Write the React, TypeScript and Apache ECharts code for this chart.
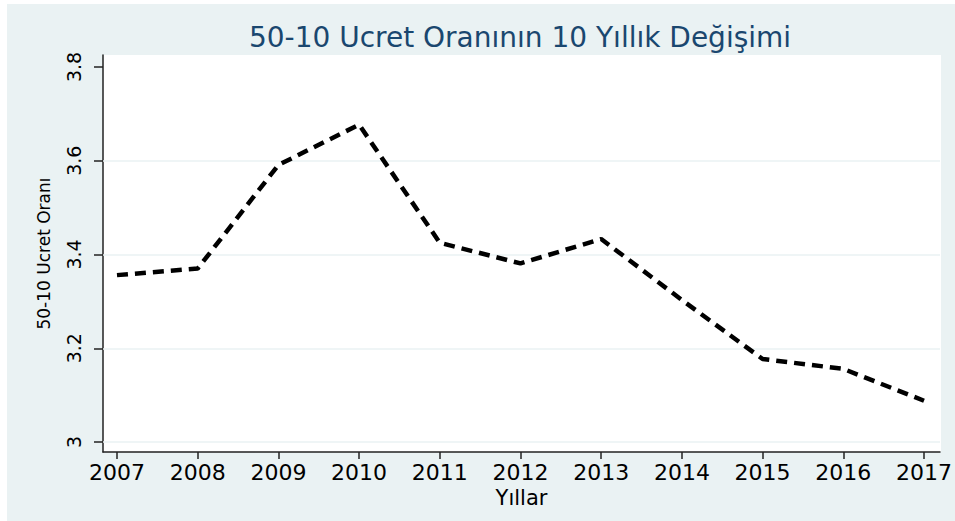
import React, { useEffect, useRef } from "react";
import * as echarts from "echarts";

const years = [2007, 2008, 2009, 2010, 2011, 2012, 2013, 2014, 2015, 2016, 2017];
const ratio = [3.356, 3.37, 3.591, 3.677, 3.425, 3.381, 3.433, 3.303, 3.177, 3.156, 3.088];
const yTicks = [3, 3.2, 3.4, 3.6, 3.8];
const gridValues = [3, 3.2, 3.4, 3.6];
const titleText = "50-10 Ucret Oranının 10 Yıllık Değişimi";
const yName = "50-10 Ucret Oranı";
const xName = "Yıllar";

const FONT = "'DejaVu Sans', sans-serif";

export default function App() {
  const ref = useRef<HTMLDivElement>(null);
  useEffect(() => {
    if (!ref.current) return;
    const chart = echarts.init(ref.current, undefined, { renderer: "svg" });
    const data = years.map((y, i) => [y, ratio[i]]);
    chart.setOption({
      animation: false,
      backgroundColor: "#ffffff",
      graphic: [
        { type: "rect", z: -100, shape: { x: 7, y: 4, width: 948, height: 517 }, style: { fill: "#EAF2F3" }, silent: true },
        { type: "rect", z: -99, shape: { x: 103, y: 55, width: 838, height: 397 }, style: { fill: "#ffffff" }, silent: true },
        {
          type: "text",
          x: 520,
          y: 37,
          style: {
            text: titleText,
            fill: "#1A476F",
            font: `28px ${FONT}`,
            textAlign: "center",
            textVerticalAlign: "middle",
          },
        },
      ],
      grid: { left: 103, right: 14, top: 55, bottom: 69 },
      xAxis: {
        type: "value",
        min: 2006.8267,
        max: 2017.198,
        name: xName,
        nameLocation: "middle",
        nameGap: 34,
        nameTextStyle: { fontFamily: FONT, fontSize: 21, color: "#000" },
        axisLine: { show: true, lineStyle: { color: "#222", width: 1.5 } },
        axisTick: { show: true, length: 7, customValues: years, lineStyle: { color: "#222", width: 1.5 } },
        axisLabel: { customValues: years, fontFamily: FONT, fontSize: 22, color: "#000", margin: 9, formatter: (v: number) => String(v) },
        splitLine: { show: false },
      },
      yAxis: {
        type: "value",
        min: 2.97867,
        max: 3.8256,
        name: yName,
        nameLocation: "middle",
        nameRotate: 90,
        nameGap: 51,
        nameTextStyle: { fontFamily: FONT, fontSize: 17, color: "#000" },
        axisLine: { show: true, lineStyle: { color: "#222", width: 1.5 } },
        axisTick: { show: true, length: 9, customValues: yTicks, lineStyle: { color: "#222", width: 1.5 } },
        axisLabel: { customValues: yTicks, rotate: 90, fontFamily: FONT, fontSize: 19, color: "#000", margin: 20, formatter: (v: number) => String(Math.round(v * 10) / 10) },
        splitLine: { show: false },
      },
      series: [
        {
          type: "line",
          data,
          symbol: "none",
          lineStyle: { color: "#000", width: 4.5, type: [11, 7] },
          markLine: {
            silent: true,
            symbol: "none",
            label: { show: false },
            lineStyle: { color: "#EAF2F3", width: 1.5, type: "solid" },
            data: gridValues.map((v) => ({ yAxis: v })),
            z: 1,
          },
          z: 3,
        },
      ],
    });
    return () => chart.dispose();
  }, []);
  return <div ref={ref} style={{ position: "fixed", left: 0, top: 0, width: 955, height: 521 }} />;
}
